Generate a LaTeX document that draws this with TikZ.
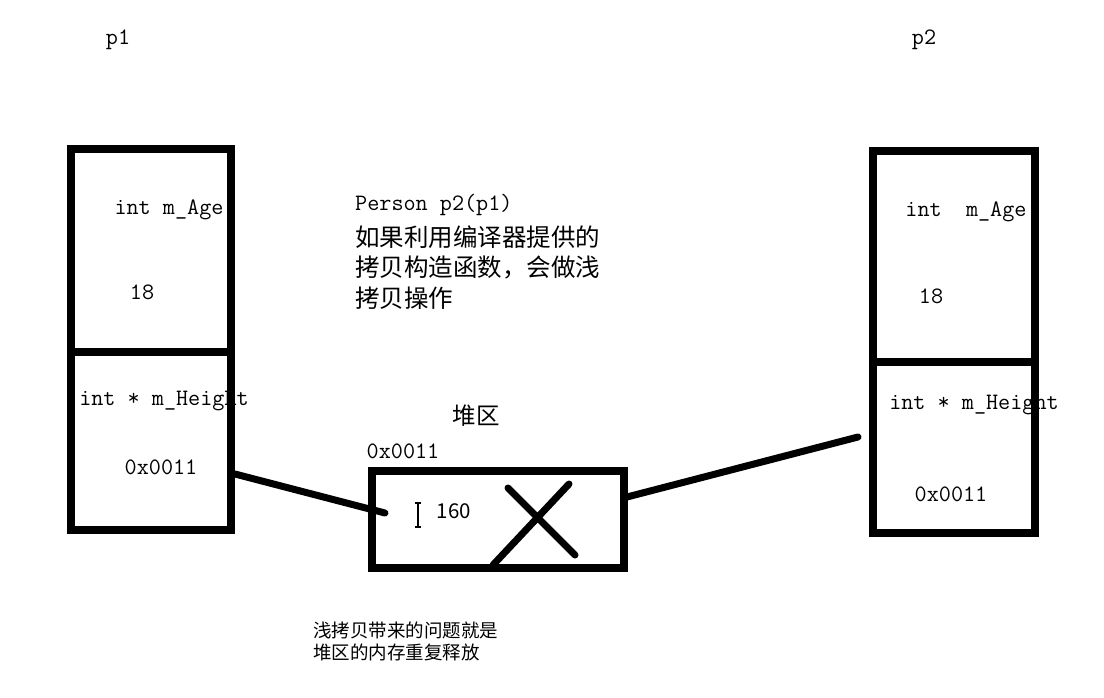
\documentclass[tikz,border=0pt]{standalone}
\usepackage{fontspec}
\newfontfamily\cjk{Noto Sans CJK SC}
\usetikzlibrary{positioning}

\begin{document}
\begin{tikzpicture}[x=1pt,y=-1pt,node distance=0pt,
	cell/.style={
		% The shape:
		rectangle,
		% The border:
		draw=black,
		line width=8pt,
		outer sep=0pt,
		inner sep=0pt
		},
	code/.style={
		font=\ttfamily\fontsize{23.5}{28}\selectfont,
		inner sep=0pt
		},
	note/.style={
		font=\cjk\fontsize{24.5}{31}\selectfont,
		inner sep=0pt
		},
	wire/.style={line width=7pt,line cap=round}]

	\useasboundingbox (0,0) rectangle (1104,697);

	% labels first, the box borders go over them
	\node (p1) [code] at (118,40) {p1};
	\node (p2) [code] at (924,40) {p2};

	\node (ageLt) [code] at (169,210) {int m\_Age};
	\node (ageLv) [code] at (142,292) {18};
	\node (hgtLt) [code] at (164,401) {int * m\_Height};
	\node (hgtLv) [code] at (161,467) {0x0011};

	\node (ageRt) [code] at (966,212) {int\ \ m\_Age};
	\node (ageRv) [code] at (931,296) {18};
	\node (hgtRt) [code] at (974,405) {int * m\_Height};
	\node (hgtRv) [code] at (951,494) {0x0011};

	\node (ctor) [code,anchor=west] at (355,205) {Person p2(p1)};
	\node (ctor2) [note,anchor=west] at (355,237) {如果利用编译器提供的};
	\node (ctor3) [note,anchor=west] at (355,268) {拷贝构造函数，会做浅};
	\node (ctor4) [note,anchor=west] at (355,298) {拷贝操作};

	\node (heapname) [note,font=\cjk\fontsize{23.5}{28}\selectfont] at (476,416) {堆区};
	\node (heapaddr) [code] at (403,451) {0x0011};
	\node (heapval) [note,font=\cjk\fontsize{20.5}{24}\selectfont] at (454,511) {160};

	\node (issue) [note,font=\cjk\fontsize{18.5}{22}\selectfont,align=left,anchor=north west] at (313,622)
		{浅拷贝带来的问题就是\\堆区的内存重复释放};

	% p1
	\node (ageL) [cell,minimum width=160pt,minimum height=203pt] at (151,250.5) {};
	\node (hgtL) [cell,minimum width=160pt,minimum height=178pt,below=of ageL] {};

	% p2
	\node (ageR) [cell,minimum width=162pt,minimum height=211pt] at (954,256.5) {};
	\node (hgtR) [cell,minimum width=162pt,minimum height=171pt,below=of ageR] {};

	% heap
	\node (heap) [cell,minimum width=252pt,minimum height=97pt] at (498,519.5) {};

	\coordinate (lfrom) at (235,474);
	\coordinate (lto) at (385,513);
	\coordinate (rfrom) at (627,497);
	\coordinate (rto) at (858,437);
	\draw[wire] (lfrom) -- (lto);
	\draw[wire] (rfrom) -- (rto);

	% cross over the freed block
	\draw[wire] (508,488) -- (575,555) (569,484) -- (493,565);

	% text cursor
	\draw[line width=1.2pt] (415,503) -- (421,503) (418,503) -- (418,527) (415,527) -- (421,527);

\end{tikzpicture}
\end{document}
